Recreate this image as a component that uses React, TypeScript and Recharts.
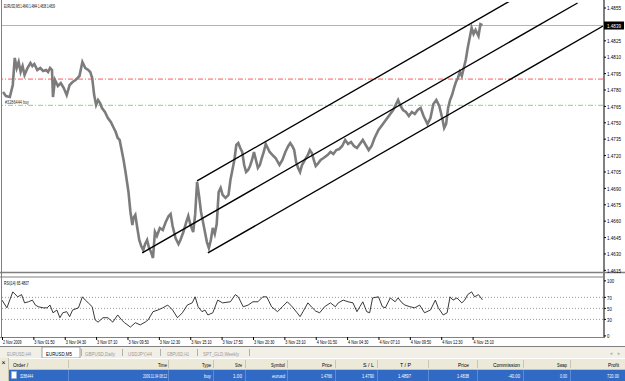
import React from 'react';
import { ComposedChart, Line, XAxis, YAxis, ReferenceLine } from 'recharts';

const FONT = '"Liberation Sans", Arial, sans-serif';

// [bar index (M5), close price]
const priceSeries: [number, number][] = [
  [1, 1.47782], [4, 1.47745], [8, 1.47736], [11, 1.47846], [13, 1.48093], [15, 1.48001], [17, 1.48056],
  [19, 1.47965], [21, 1.48019], [23, 1.47937], [26, 1.48001], [29, 1.48047], [31, 1.48019], [33, 1.48038],
  [36, 1.47983], [39, 1.48001], [42, 1.47974], [45, 1.47983], [47, 1.47965], [49, 1.48001], [51, 1.47983],
  [52, 1.47736], [54, 1.47891], [57, 1.47837], [60, 1.47864], [63, 1.47818], [66, 1.47754], [69, 1.47846],
  [72, 1.47873], [75, 1.47891], [79, 1.47928], [82, 1.48056], [85, 1.48001], [88, 1.47983], [90, 1.47965],
  [92, 1.4791], [94, 1.47754], [96, 1.47663], [98, 1.47708], [100, 1.47681], [102, 1.47635], [105, 1.47599],
  [108, 1.47544], [111, 1.47507], [114, 1.47452], [116, 1.47416], [118, 1.47361], [120, 1.47343], [122, 1.47251],
  [124, 1.4716], [126, 1.4705], [129, 1.46867], [131, 1.46684], [133, 1.46565], [134, 1.46629], [136, 1.46657],
  [138, 1.46538], [140, 1.46428], [142, 1.46373], [144, 1.46336], [146, 1.46391], [148, 1.46428], [150, 1.46355],
  [152, 1.46318], [154, 1.46263], [156, 1.46501], [158, 1.46464], [161, 1.46538], [164, 1.46519], [167, 1.46593],
  [170, 1.46647], [172, 1.46666], [174, 1.46556], [177, 1.46446], [180, 1.46391], [182, 1.46428], [185, 1.46501],
  [188, 1.46593], [190, 1.46647], [192, 1.46574], [195, 1.46501], [197, 1.46657], [199, 1.46959], [201, 1.4683],
  [203, 1.46684], [205, 1.46593], [207, 1.46501], [209, 1.46409], [211, 1.46355], [213, 1.46428], [215, 1.46538],
  [217, 1.46483], [219, 1.46574], [221, 1.46867], [223, 1.46904], [225, 1.4684], [228, 1.46812], [231, 1.4684],
  [233, 1.46977], [235, 1.47068], [237, 1.4716], [239, 1.47297], [241, 1.47315], [243, 1.47269], [245, 1.47233],
  [247, 1.47114], [249, 1.4705], [251, 1.47068], [253, 1.47105], [255, 1.4716], [257, 1.47233], [259, 1.4716],
  [261, 1.47087], [263, 1.47114], [265, 1.47178], [267, 1.47233], [269, 1.47306], [271, 1.47269], [273, 1.47233],
  [276, 1.47205], [279, 1.47178], [283, 1.47114], [286, 1.4716], [289, 1.47233], [292, 1.47288], [294, 1.47315],
  [296, 1.47288], [298, 1.47251], [300, 1.47141], [302, 1.47087], [304, 1.4705], [306, 1.47114], [309, 1.4716],
  [312, 1.47205], [314, 1.47251], [316, 1.47224], [318, 1.4716], [320, 1.47105], [322, 1.47123], [325, 1.4716],
  [328, 1.47178], [332, 1.47205], [335, 1.47233], [338, 1.47215], [341, 1.47251], [344, 1.4726], [347, 1.47288],
  [350, 1.47343], [353, 1.47306], [356, 1.47324], [359, 1.47288], [362, 1.47269], [365, 1.47306], [368, 1.47343],
  [371, 1.47297], [374, 1.47251], [377, 1.47288], [380, 1.47361], [384, 1.47434], [387, 1.47471], [390, 1.47507],
  [393, 1.47544], [396, 1.4758], [399, 1.47617], [402, 1.47672], [404, 1.47708], [406, 1.47663], [409, 1.47617],
  [412, 1.47599], [415, 1.47562], [418, 1.47599], [421, 1.4758], [424, 1.47617], [427, 1.47635], [430, 1.47562],
  [434, 1.47489], [437, 1.47544], [440, 1.47672], [443, 1.47708], [446, 1.47654], [449, 1.47544], [451, 1.47452],
  [453, 1.47489], [455, 1.47635], [457, 1.47708], [459, 1.47754], [461, 1.47818], [463, 1.47873], [465, 1.4791],
  [467, 1.47965], [469, 1.47928], [471, 1.48001], [473, 1.48074], [475, 1.48184], [477, 1.48275], [479, 1.48367],
  [481, 1.48312], [483, 1.48349], [486, 1.48294], [488, 1.48403], [490, 1.48394],
];

// [bar index, RSI(14)]
const rsiSeries: [number, number][] = [
  [0, 65], [5, 51], [11, 80], [16, 71], [20, 75], [23, 60], [27, 62], [31, 65], [34, 56], [37, 53], [42, 51],
  [46, 51], [49, 56], [52, 42], [56, 47], [59, 33], [62, 42], [66, 44], [69, 35], [72, 47], [78, 51], [82, 71],
  [85, 65], [88, 60], [92, 53], [95, 29], [98, 25], [103, 33], [108, 33], [113, 25], [118, 38], [122, 29],
  [125, 24], [131, 16], [136, 24], [141, 20], [146, 25], [149, 29], [154, 44], [159, 47], [164, 51], [169, 56],
  [174, 47], [179, 33], [184, 42], [189, 56], [194, 60], [197, 71], [200, 53], [204, 44], [207, 47], [210, 38],
  [215, 42], [220, 65], [225, 60], [233, 62], [238, 75], [241, 71], [246, 53], [251, 56], [256, 62], [261, 62],
  [266, 71], [270, 71], [275, 53], [281, 44], [286, 53], [291, 62], [296, 53], [301, 42], [304, 35], [307, 44],
  [312, 60], [316, 52], [320, 45], [324, 42], [329, 53], [335, 60], [340, 53], [343, 60], [348, 65], [353, 62],
  [358, 60], [362, 44], [365, 53], [368, 62], [372, 44], [375, 42], [378, 69], [384, 71], [388, 53], [391, 51],
  [396, 69], [401, 62], [404, 69], [408, 60], [411, 56], [416, 53], [421, 51], [426, 56], [431, 42], [437, 47],
  [442, 65], [445, 51], [450, 38], [454, 42], [457, 71], [460, 65], [464, 69], [469, 60], [472, 65], [475, 75],
  [479, 80], [482, 71], [486, 75], [490, 65.48],
];

const timeTickBars = [0, 32, 64, 96, 128, 160, 192, 224, 256, 288, 320, 352, 384, 416, 448, 480];
const timeTickLabels = [
  '2 Nov 2009', '3 Nov 01:50', '3 Nov 04:30', '3 Nov 07:10', '3 Nov 09:50', '3 Nov 12:30', '3 Nov 15:10',
  '3 Nov 17:50', '3 Nov 20:30', '3 Nov 23:10', '4 Nov 01:50', '4 Nov 04:30', '4 Nov 07:10', '4 Nov 09:50',
  '4 Nov 12:30', '4 Nov 15:10',
];
const priceTicks = [1.4615, 1.463, 1.4645, 1.466, 1.4675, 1.469, 1.4705, 1.472, 1.4735, 1.475, 1.4765, 1.478,
  1.4795, 1.481, 1.4825, 1.4855];
const rsiTicks = [0, 30, 50, 70, 100];
const rsiLevels = [30, 50, 70];

const bidPrice = 1.4839;
const stopLoss = 1.479;
const openPrice = 1.4766;
const orderLabel = '#3286444 buy';
const headerText = 'EURUSD,M5  1.4840 1.4844 1.4838 1.4839';
const rsiText = 'RSI(14) 65.4807';

// channel trend lines: [startBar, startPrice, endBar, endPrice]
const channelLines: [number, number, number, number][] = [
  [199, 1.46968, 518, 1.48614],
  [143, 1.46309, 587, 1.48596],
  [210, 1.46309, 613, 1.48385],
];

const tabNames = ['EURUSD,H4', 'EURUSD,M5', 'GBPUSD,Daily', 'USDJPY,H4', 'GBPUSD,H1', 'SPT_GLD,Weekly'];
const tableHeaders = ['Order /', 'Time', 'Type', 'Size', 'Symbol', 'Price', 'S / L', 'T / P', 'Price', 'Commission', 'Swap', 'Profit'];
const tableRow = ['3286444', '2009.11.04 08:12', 'buy', '1.00', 'eurusd', '1.4766', '1.4790', '1.4897', '1.4838', '-40.00', '0.00', '720.00'];

const priceData = priceSeries.map(([bar, close]) => ({ bar, close }));
const rsiData = rsiSeries.map(([bar, rsi]) => ({ bar, rsi }));

function Txt({ x, y, w, children, size = 6.5, fill = '#000', anchor = 'start' }: any) {
  return (
    <text x={x} y={y} fontSize={size} fontFamily={FONT} fill={fill} textAnchor={anchor}
      textLength={w} lengthAdjust="spacingAndGlyphs">{children}</text>
  );
}

const PriceTick = (props: any) => {
  const { x, y, payload } = props;
  return (
    <g>
      <line x1={x + 1} x2={x + 3} y1={y} y2={y} stroke="#000" strokeWidth={1} />
      <Txt x={x + 4} y={y + 2.2} w={14} size={5.4}>{payload.value.toFixed(4)}</Txt>
    </g>
  );
};

const RsiTick = (props: any) => {
  const { x, y, payload } = props;
  const s = String(payload.value);
  return (
    <g>
      <line x1={x + 1} x2={x + 3} y1={y} y2={y} stroke="#000" strokeWidth={1} />
      <Txt x={x + 4} y={y + 2.2} w={s.length * 2.4} size={5.4}>{s}</Txt>
    </g>
  );
};

const TimeTick = (props: any) => {
  const { x, y, payload, index } = props;
  const label = timeTickLabels[timeTickBars.indexOf(payload.value)] ?? timeTickLabels[index];
  return (
    <g>
      <line x1={x + 0.5} x2={x + 0.5} y1={y} y2={y + 3} stroke="#000" strokeWidth={1} />
      <Txt x={x + 1} y={y + 7} w={label.length * 1.85} size={5.5}>{label}</Txt>
    </g>
  );
};

const BidLabel = (p: any) => {
  const vb = p.viewBox || {};
  const x = vb.x + vb.width;
  const y = vb.y;
  return (
    <g>
      <rect x={x + 1} y={y - 4} width={20} height={8} fill="#000" />
      <Txt x={x + 4} y={y + 2.2} w={14} size={5.4} fill="#fff">{bidPrice.toFixed(4)}</Txt>
    </g>
  );
};

const OrderLabel = (p: any) => {
  const vb = p.viewBox || {};
  return <Txt x={vb.x + 3} y={vb.y - 1.5} w={24} size={5} fill="#333">{orderLabel}</Txt>;
};

function Chrome() {
  const tabX = [7, 46, 85, 128, 167, 203];
  const tabW = [24, 26, 30, 24, 22, 36];
  const tabSeps = [81, 122, 160, 197, 249];
  const colRight = [28, 167, 211, 242, 285, 332, 374, 411, 469, 520, 567, 619];
  const hdrW = [15, 9, 9, 7, 14, 10, 11, 11, 11, 27, 10, 11];
  const rowW = [13, 24, 7, 9, 13, 11, 12, 13, 12, 12, 7, 12];
  const colSeps = [68, 168, 213, 245, 287, 335, 377, 428, 477, 523, 570];
  return (
    <svg width={625} height={381} style={{ position: 'absolute', left: 0, top: 0 }}>
      <rect x={0} y={0} width={625} height={381} fill="#fff" />
      <Txt x={4} y={8} w={51} size={5}>{headerText}</Txt>
      <line x1={1.5} x2={1.5} y1={0} y2={338} stroke="#808080" />
      <line x1={604} x2={604} y1={0} y2={338} stroke="#808080" strokeWidth={2} />
      <line x1={0} x2={625} y1={272.5} y2={272.5} stroke="#808080" strokeWidth={1.5} />
      <line x1={0} x2={604} y1={277} y2={277} stroke="#808080" />
      <line x1={0} x2={604} y1={337.5} y2={337.5} stroke="#808080" />
      <Txt x={4} y={285} w={25} size={5.2}>{rsiText}</Txt>
      <line x1={0} x2={625} y1={346.5} y2={346.5} stroke="#808080" />
      <rect x={0} y={347} width={625} height={11} fill="#f1efe6" />
      <rect x={42} y={347} width={38} height={11} fill="#fff" stroke="#8a8a8a" strokeWidth={0.8} />
      {tabNames.map((t, i) => (
        <Txt key={t} x={tabX[i]} y={355.5} w={tabW[i]} size={6} fill={i === 1 ? '#000' : '#9a9a9a'}>{t}</Txt>
      ))}
      {tabSeps.map((s) => (
        <line key={s} x1={s + 0.5} x2={s + 0.5} y1={349} y2={356} stroke="#b0b0b0" />
      ))}
      <Txt x={610} y={355} w={3} size={6} fill="#888">‹</Txt>
      <Txt x={617} y={355} w={3} size={6} fill="#888">›</Txt>
      <rect x={0} y={358} width={625} height={12} fill="#ece9d8" />
      <line x1={9} x2={625} y1={358.5} y2={358.5} stroke="#fff" />
      <line x1={9} x2={625} y1={369.5} y2={369.5} stroke="#c5c2b2" />
      {colSeps.map((s) => (
        <line key={'h' + s} x1={s + 0.5} x2={s + 0.5} y1={360} y2={368} stroke="#c9c6b6" />
      ))}
      {tableHeaders.map((h, i) => (
        <Txt key={'hd' + i} x={i === 0 ? 13 : colRight[i]} y={366.5} w={hdrW[i]} size={5.5}
          anchor={i === 0 ? 'start' : 'end'}>{h}</Txt>
      ))}
      <rect x={9} y={370} width={616} height={11} fill="#316ac5" />
      {colSeps.map((s) => (
        <line key={'r' + s} x1={s + 0.5} x2={s + 0.5} y1={370} y2={381} stroke="#5d8ad4" />
      ))}
      <rect x={11.5} y={371.5} width={5} height={7} fill="#fff" stroke="#9bb0d6" strokeWidth={0.6} />
      {tableRow.map((v, i) => (
        <Txt key={'rw' + i} x={i === 0 ? 20 : colRight[i]} y={378} w={rowW[i]} size={5.5} fill="#fff"
          anchor={i === 0 ? 'start' : 'end'}>{v}</Txt>
      ))}
      <rect x={0} y={358} width={9} height={23} fill="#ece9d8" />
      <line x1={8.5} x2={8.5} y1={358} y2={381} stroke="#c5c2b2" />
      <Txt x={1.5} y={365} w={4} size={6.5} fill="#000">×</Txt>
    </svg>
  );
}

export default function App() {
  return (
    <div style={{ position: 'fixed', left: 0, top: 0, width: 625, height: 381, overflow: 'hidden', background: '#fff' }}>
      <Chrome />
      <div style={{ position: 'absolute', left: 0, top: 0 }}>
        <ComposedChart width={625} height={276} data={priceData} margin={{ top: 2, right: 0, left: 2, bottom: 4 }}>
          <XAxis type="number" dataKey="bar" domain={[0, 613]} hide allowDataOverflow />
          <YAxis orientation="right" width={22} domain={[1.46135, 1.48605]} ticks={priceTicks} interval={0}
            allowDataOverflow axisLine={false} tickLine={false} tickSize={0} tickMargin={0} tick={<PriceTick />} />
          <ReferenceLine y={bidPrice} stroke="#a7b6cb" strokeWidth={1} label={<BidLabel />} />
          <ReferenceLine y={stopLoss} stroke="#ff5a5a" strokeWidth={1} strokeDasharray="5 2 1 2" />
          <ReferenceLine y={openPrice} stroke="#86d486" strokeWidth={1} strokeDasharray="5 2 1 2" label={<OrderLabel />} />
          <Line dataKey="close" type="linear" stroke="#7c7c7c" strokeWidth={2.6} dot={false} isAnimationActive={false} />
          {channelLines.map((l, i) => (
            <ReferenceLine key={i} segment={[{ x: l[0], y: l[1] }, { x: l[2], y: l[3] }]} stroke="#000"
              strokeWidth={1.4} ifOverflow="hidden" />
          ))}
        </ComposedChart>
      </div>
      <div style={{ position: 'absolute', left: 0, top: 275 }}>
        <ComposedChart width={625} height={72} data={rsiData} margin={{ top: 2, right: 0, left: 2, bottom: 0 }}>
          <XAxis type="number" dataKey="bar" domain={[0, 613]} ticks={timeTickBars} interval={0} height={10}
            allowDataOverflow axisLine={false} tickLine={false} tickSize={0} tickMargin={0} tick={<TimeTick />} />
          <YAxis orientation="right" width={22} domain={[-2, 107]} ticks={rsiTicks} interval={0}
            allowDataOverflow axisLine={false} tickLine={false} tickSize={0} tickMargin={0} tick={<RsiTick />} />
          {rsiLevels.map((v) => (
            <ReferenceLine key={v} y={v} stroke="#9a9a9a" strokeDasharray="1 2" />
          ))}
          <Line dataKey="rsi" type="linear" stroke="#222" strokeWidth={0.9} dot={false} isAnimationActive={false} />
        </ComposedChart>
      </div>
    </div>
  );
}
